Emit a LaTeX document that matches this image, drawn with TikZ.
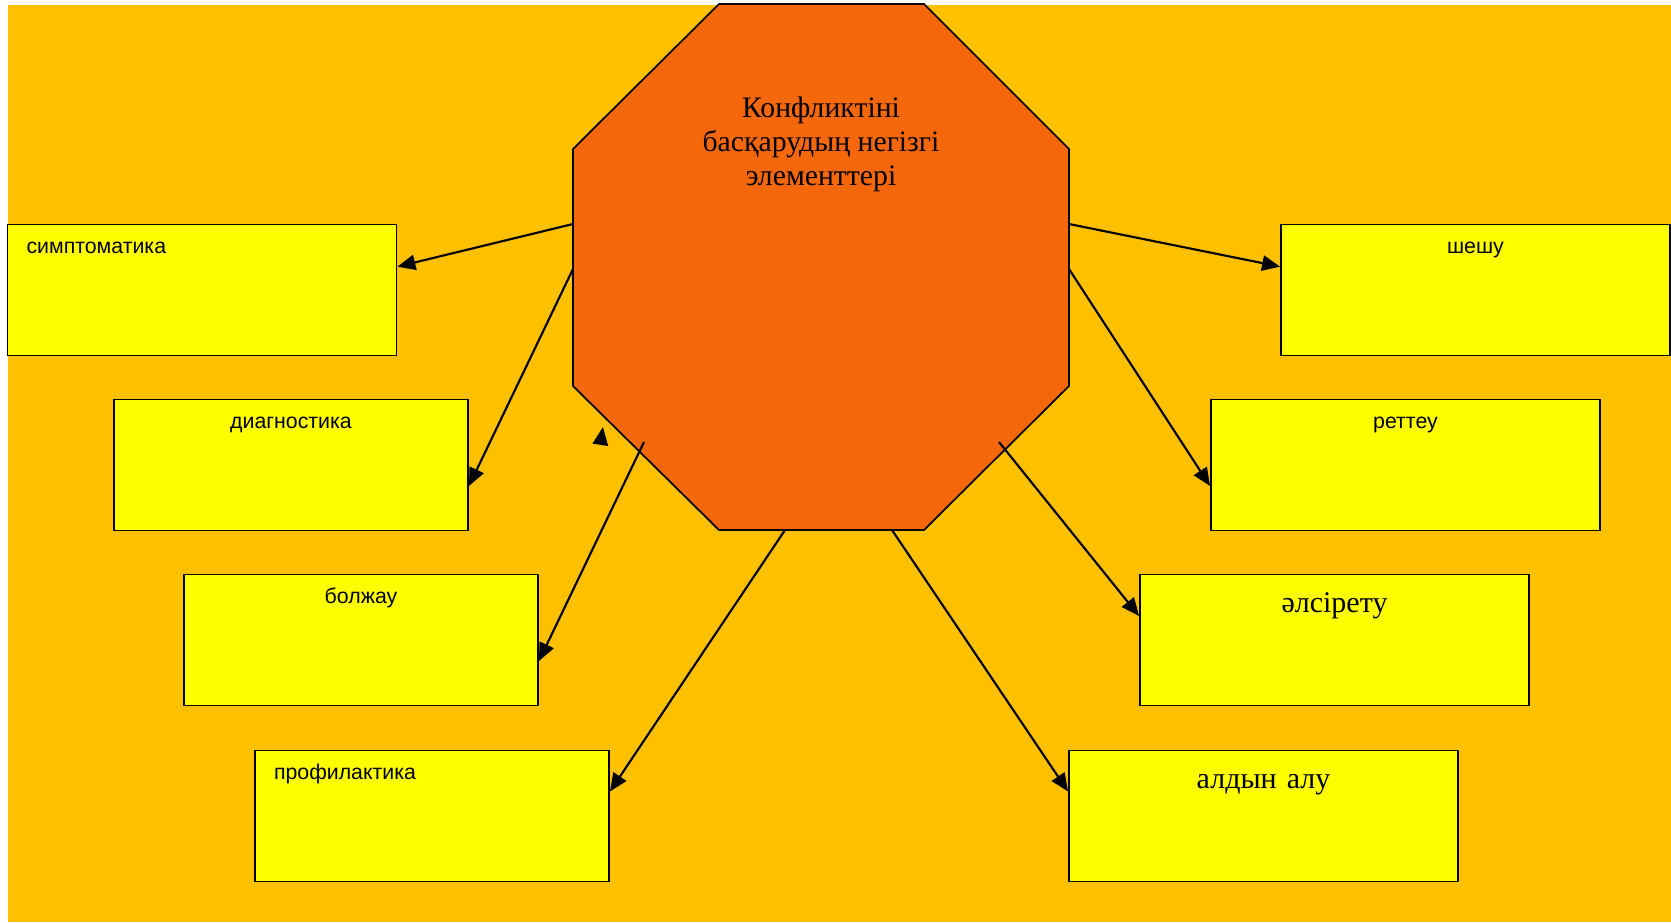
\documentclass[tikz,border=0pt]{standalone}
\usepackage{fontspec}
\setmainfont{Liberation Serif}
\setsansfont{Liberation Sans}
\usetikzlibrary{arrows.meta}
\definecolor{backdrop}{HTML}{FFC000}
\definecolor{hubfill}{HTML}{F4680B}
\definecolor{boxfill}{HTML}{FFFF00}
\newcommand\elem[4][]{\node[elem,#1] (#2) at (#3) {#4};}
\newcommand\ghost[2]{\coordinate (#1) at (#2);}
\newcommand\connect[2]{\path[link] (#1) -- (#2);}

\begin{document}
\begin{tikzpicture}[x=0.75pt,y=-0.75pt]
\tikzstyle{elem}=[draw,fill=boxfill,line width=1.4pt,inner xsep=14.25pt,inner ysep=0pt,text width=263.25pt,text height=21.75pt,text depth=76.5pt,align=center,font=\sffamily\fontsize{16}{19}\selectfont]
\tikzstyle{narrow}=[text width=237pt]
\tikzstyle{flush}=[align=left]
\tikzstyle{serif}=[font=\rmfamily\fontsize{22.5}{26}\selectfont,text height=28.5pt,text depth=69.75pt]
\tikzstyle{hub}=[draw,fill=hubfill,line width=1.3pt]
\tikzstyle{heading}=[align=center,font=\rmfamily\fontsize{22.3}{25.5}\selectfont]
\tikzstyle{link}=[draw,line width=1.6pt,-{Triangle[length=13.5pt,width=11.5pt]}]

\useasboundingbox (0,0) rectangle (1671,922);
\fill[white] (0,0) rectangle (1671,922);
\fill[backdrop] (8,4.5) rectangle (1671,922);

%% hub
\path[hub] (719,4) -- (924,4) -- (1069,149) -- (1069,386) -- (924,530)
  -- (719,530) -- (573,386) -- (573,149) -- cycle;
\node[heading] (title) at (821,144) {Конфликтіні\\басқарудың негізгі\\элементтері};

%% elements
\elem[flush]{symptom}{202,290}{симптоматика}
\elem[narrow]{diagnosis}{291,465}{диагностика}
\elem[narrow]{forecast}{361,640}{болжау}
\elem[narrow,flush]{prevention}{432,816}{профилактика}
\elem{solution}{1475.5,290}{шешу}
\elem{regulation}{1405.5,465}{реттеу}
\elem[serif]{weakening}{1334.5,640}{әлсірету}
\elem[serif]{forestall}{1263.5,816}{алдын алу}

\ghost{s1}{573,224}
\ghost{s2}{573,269}
\ghost{s3}{644,442}
\ghost{s4}{785,530}
\ghost{s5}{1069,224}
\ghost{s6}{1069,269}
\ghost{s7}{999,442}
\ghost{s8}{892,530}
\ghost{stray1}{600.6,442.8}
\ghost{stray2}{603,427}

%% connections

\connect{s1}{[yshift=17.5pt]symptom.east};
\connect{s2}{[yshift=-15.75pt]diagnosis.east};
\connect{s3}{[yshift=-15.75pt]forecast.east};
\connect{s4}{[yshift=18.4pt]prevention.east};
\connect{s5}{[yshift=17.5pt]solution.west};
\connect{s6}{[yshift=-15.75pt]regulation.west};
\connect{s7}{[yshift=18pt]weakening.west};
\connect{s8}{[yshift=18.4pt]forestall.west};
\connect{stray1}{stray2};
\end{tikzpicture}
\end{document}
